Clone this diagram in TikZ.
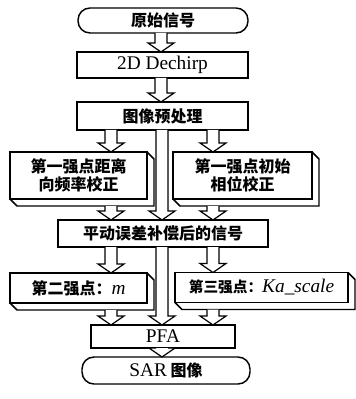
\documentclass[tikz,border=0pt]{standalone}
\usepackage{fontspec}
\setmainfont{Liberation Serif}
\newfontfamily\cjk{Noto Sans CJK SC}
\usetikzlibrary{calc}
\tikzset{
  box/.style={draw, line width=1.1pt, inner sep=0pt, outer sep=0pt, fill=white,
    font=\cjk\bfseries\fontsize{12}{14}\selectfont, align=center},
  term/.style={box, rounded corners=9pt},
  latin/.style={font=\rmfamily\fontsize{14.5}{16}\selectfont},
  harrowstyle/.style={draw, line width=0.9pt, fill=white, line join=miter},
  depthstyle/.style={draw, line width=1.1pt, line join=miter}
}
\newcommand\harrow[2]{\draw[harrowstyle] let \p1=#1, \p2=#2 in
  (\x2-4.5pt,\y1) -- (\x2-4.5pt,\y2+6.75pt) -- (\x2-9.75pt,\y2+6.75pt) -- (\x2,\y2)
  -- (\x2+9.75pt,\y2+6.75pt) -- (\x2+4.5pt,\y2+6.75pt) -- (\x2+4.5pt,\y1);}
\newcommand\depthbox[1]{\draw[depthstyle] (#1.north east) -- ++(7,7)
  -- ($(#1.south east)+(7,7)$) -- ($(#1.south west)+(7,7)$) -- (#1.south west);}
\newcommand\lat[1]{{\rmfamily\mdseries\fontsize{14.5}{16}\selectfont #1}}
\begin{document}
\begin{tikzpicture}[x=0.75pt,y=-0.75pt]
\useasboundingbox (0,0) rectangle (356,399);
\coordinate (cT) at (161,0);
\coordinate (cM) at (162,0);
\coordinate (cL) at (111,0);
\coordinate (cR) at (213,0);

\node[term, minimum width=127.5pt, minimum height=18.75pt] (start) at (163,20.5) {原始信号};
\node[box, latin, minimum width=128.25pt, minimum height=19.5pt] (dechirp) at (162.5,65) {2D Dechirp};
\node[box, minimum width=128.25pt, minimum height=21pt] (pre) at (162.5,116) {图像预处理};

\node[box, minimum width=102.75pt, minimum height=35.25pt] (b1) at (78.5,175.5) {第一强点距离\\向频率校正};
\depthbox{b1}
\node[box, minimum width=104.25pt, minimum height=35.25pt] (b2) at (242.5,175.5) {第一强点初始\\相位校正};
\depthbox{b2}

\node[box, minimum width=157.5pt, minimum height=20.25pt] (comp) at (163,233.5) {平动误差补偿后的信号};

\node[box, minimum width=102.75pt, minimum height=22.5pt] (b3) at (78.5,288) {第二强点：\lat{\itshape m}};
\depthbox{b3}
\node[box, minimum width=129.75pt, minimum height=22.5pt, font=\cjk\bfseries\fontsize{11}{13}\selectfont] (b4) at (261.5,287.5) {第三强点：\lat{\itshape Ka\_scale}};
\depthbox{b4}

\node[box, latin, minimum width=108pt, minimum height=17.25pt] (pfa) at (163,336.5) {PFA};
\node[term, minimum width=126pt, minimum height=20.25pt] (sar) at (166,370.5) {\lat{SAR} 图像};

\harrow{(start.south -| cT)}{(dechirp.north -| cT)}
\harrow{(dechirp.south -| cT)}{(pre.north -| cT)}
\harrow{(pre.south -| cL)}{(b1.north -| cL)}
\harrow{(pre.south -| cR)}{(b2.north -| cR)}
\harrow{(pre.south -| cM)}{(comp.north -| cM)}
\harrow{($(b1.south)+(0,7)$)}{(comp.north -| cL)}
\harrow{($(b2.south)+(0,7)$)}{(comp.north -| cR)}
\harrow{(comp.south -| cL)}{(b3.north -| cL)}
\harrow{(comp.south -| cR)}{(b4.north -| cR)}
\harrow{(comp.south -| cM)}{(pfa.north -| cM)}
\harrow{($(b3.south)+(0,7)$)}{(pfa.north -| cL)}
\harrow{($(b4.south)+(0,7)$)}{(pfa.north -| cR)}
\harrow{(pfa.south -| cM)}{(sar.north -| cM)}
\end{tikzpicture}
\end{document}
